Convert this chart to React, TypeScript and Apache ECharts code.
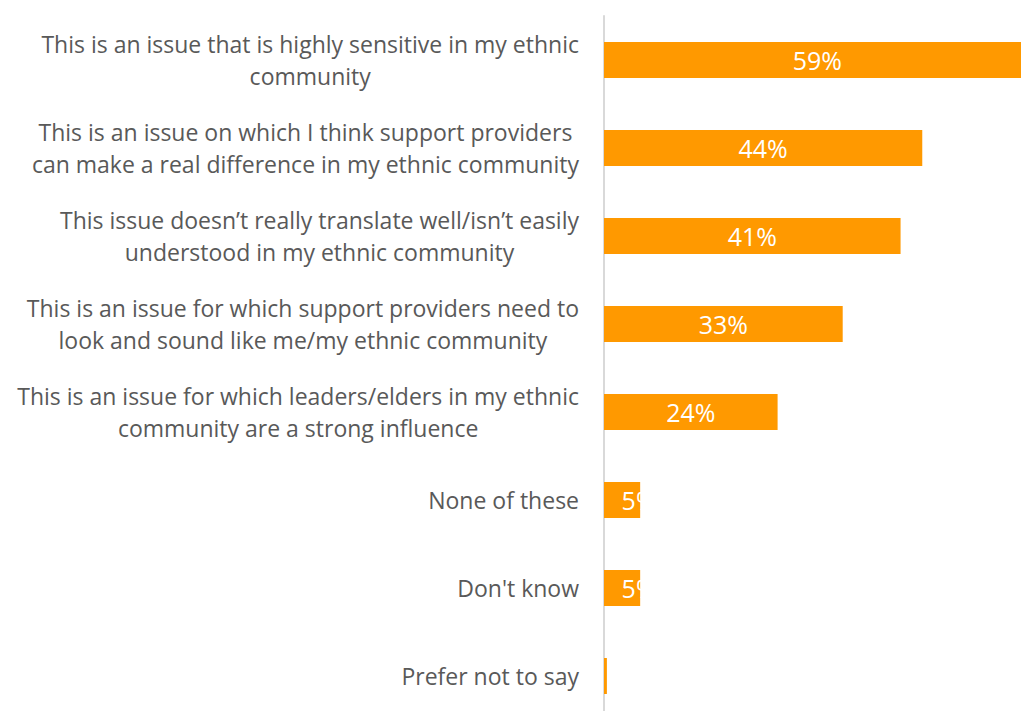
import React, { useEffect, useRef } from "react";
import * as echarts from "echarts";

const categories: string[][] = [
  ["This is an issue that is highly sensitive in my ethnic", "community"],
  ["This is an issue on which I think support providers", "can make a real difference in my ethnic community"],
  ["This issue doesn\u2019t really translate well/isn\u2019t easily", "understood in my ethnic community"],
  ["This is an issue for which support providers need to", "look and sound like me/my ethnic community"],
  ["This is an issue for which leaders/elders in my ethnic", "community are a strong influence"],
  ["None of these"],
  ["Don't know"],
  ["Prefer not to say"],
];
const values: number[] = [59, 44, 41, 33, 24, 5, 5, 0.4];
const valueLabels: string[] = ["59%", "44%", "41%", "33%", "24%", "5%", "5%", ""];

const FONT = "Open Sans";

export default function App() {
  const ref = useRef<HTMLDivElement>(null);
  useEffect(() => {
    if (!ref.current) return;
    const chart = echarts.init(ref.current, undefined, { renderer: "svg" });
    chart.setOption({
      animation: false,
      backgroundColor: "#ffffff",
      grid: { left: 604, top: 16, width: 434, height: 704, containLabel: false },
      xAxis: {
        type: "value",
        min: 0,
        max: 60,
        show: false,
        splitLine: { show: false },
      },
      yAxis: {
        type: "category",
        inverse: true,
        data: categories.map((c, i) => String(i)),
        axisTick: { show: false },
        axisLine: { show: true, lineStyle: { color: "#d9d9d9", width: 2 } },
        axisLabel: {
          margin: 25,
          align: "right",
          formatter: (v: string) => categories[Number(v)].map((l) => "{c|" + l + "}").join("\n"),
          rich: {
            c: {
              align: "center",
              fontFamily: FONT,
              fontSize: 23,
              color: "#595959",
              lineHeight: 32,
            },
          },
        },
      },
      series: [
        {
          type: "bar",
          data: values.map((v) =>
            v < 10 ? { value: v, label: { offset: [17, 0] } } : v
          ),
          barWidth: 36,
          itemStyle: { color: "#FF9900" },
          label: {
            show: true,
            position: "inside",
            color: "#ffffff",
            fontFamily: FONT,
            fontSize: 25,
            formatter: (p: any) => valueLabels[p.dataIndex],
          },
        },
      ],
    });
    return () => chart.dispose();
  }, []);
  return (
    <div
      style={{
        position: "fixed",
        left: 0,
        top: 0,
        width: 1021,
        height: 711,
        overflow: "hidden",
        background: "#fff",
      }}
    >
      <div ref={ref} style={{ width: 1040, height: 730 }} />
    </div>
  );
}
